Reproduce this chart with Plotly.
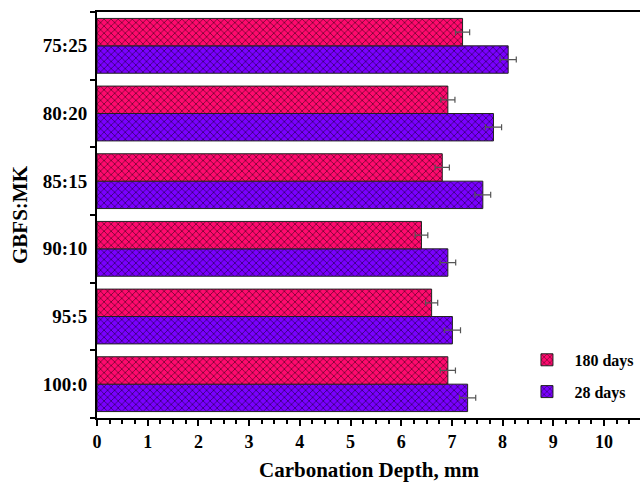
import plotly.graph_objects as go

categories = ["100:0", "95:5", "90:10", "85:15", "80:20", "75:25"]
days28 = [7.31, 7.01, 6.92, 7.61, 7.82, 8.11]
days28_err = [0.16, 0.16, 0.155, 0.155, 0.16, 0.16]
days180 = [6.92, 6.60, 6.40, 6.81, 6.92, 7.21]
days180_err = [0.15, 0.12, 0.125, 0.14, 0.14, 0.14]

FONT = "Liberation Serif"

def pat(bg):
    return dict(shape="x", bgcolor=bg, fgcolor="#000000", fgopacity=0.55,
                size=5, solidity=0.3)

fig = go.Figure()
fig.add_trace(go.Bar(
    y=categories, x=days28, orientation="h", name="28 days",
    legendgroup="b", legendrank=2,
    marker=dict(color="#7A00FF", line=dict(color="#222222", width=1),
                pattern=pat("#7A00FF")),
    error_x=dict(type="data", array=days28_err, visible=True,
                 color="#555555", thickness=1.2, width=3),
))
fig.add_trace(go.Bar(
    y=categories, x=days180, orientation="h", name="180 days",
    legendgroup="a", legendrank=1,
    marker=dict(color="#FF0A6E", line=dict(color="#222222", width=1),
                pattern=pat("#FF0A6E")),
    error_x=dict(type="data", array=days180_err, visible=True,
                 color="#555555", thickness=1.2, width=3),
))

fig.update_layout(
    width=640, height=484,
    margin=dict(l=97, r=0, t=12, b=66, autoexpand=False),
    paper_bgcolor="white", plot_bgcolor="white",
    barmode="group", bargap=0.19, bargroupgap=0,
    font=dict(family=FONT, color="black", size=16),
    legend=dict(x=0.778, y=0.185, xanchor="left", yanchor="top",
                traceorder="grouped", itemwidth=45,
                font=dict(family=FONT, size=16, color="black", weight="bold"),
                bgcolor="rgba(0,0,0,0)", tracegroupgap=8),
    showlegend=True,
    annotations=[
        dict(text="Carbonation Depth, mm", xref="paper", yref="paper",
             x=0.5, y=-0.127, xanchor="center", yanchor="middle", showarrow=False,
             font=dict(family=FONT, size=21, color="black", weight="bold")),
        dict(text="GBFS:MK", xref="paper", yref="paper", textangle=-90,
             x=-0.1418, y=0.5, xanchor="center", yanchor="middle", showarrow=False,
             font=dict(family=FONT, size=21, color="black", weight="bold")),
    ],
)
fig.update_xaxes(
    range=[0, 10.71], tickmode="linear", tick0=0, dtick=1, automargin=False,
    showgrid=False, zeroline=False,
    showline=True, linecolor="black", linewidth=2, mirror=True,
    ticks="outside", ticklen=6, tickwidth=2, tickcolor="black",
    minor=dict(dtick=0.25, ticks="outside", ticklen=4, tickwidth=1.5, tickcolor="black"),
    tickfont=dict(family=FONT, size=18, color="black", weight="bold"),
)
fig.update_yaxes(
    range=[-0.5, 5.5], tickson="boundaries", automargin=False,
    showgrid=False, zeroline=False,
    showline=True, linecolor="black", linewidth=2,
    ticks="outside", ticklen=5, tickwidth=2, tickcolor="black",
    ticklabelstandoff=4,
    tickfont=dict(family=FONT, size=19, color="black", weight="bold"),
)

fig.write_html("out.html")
